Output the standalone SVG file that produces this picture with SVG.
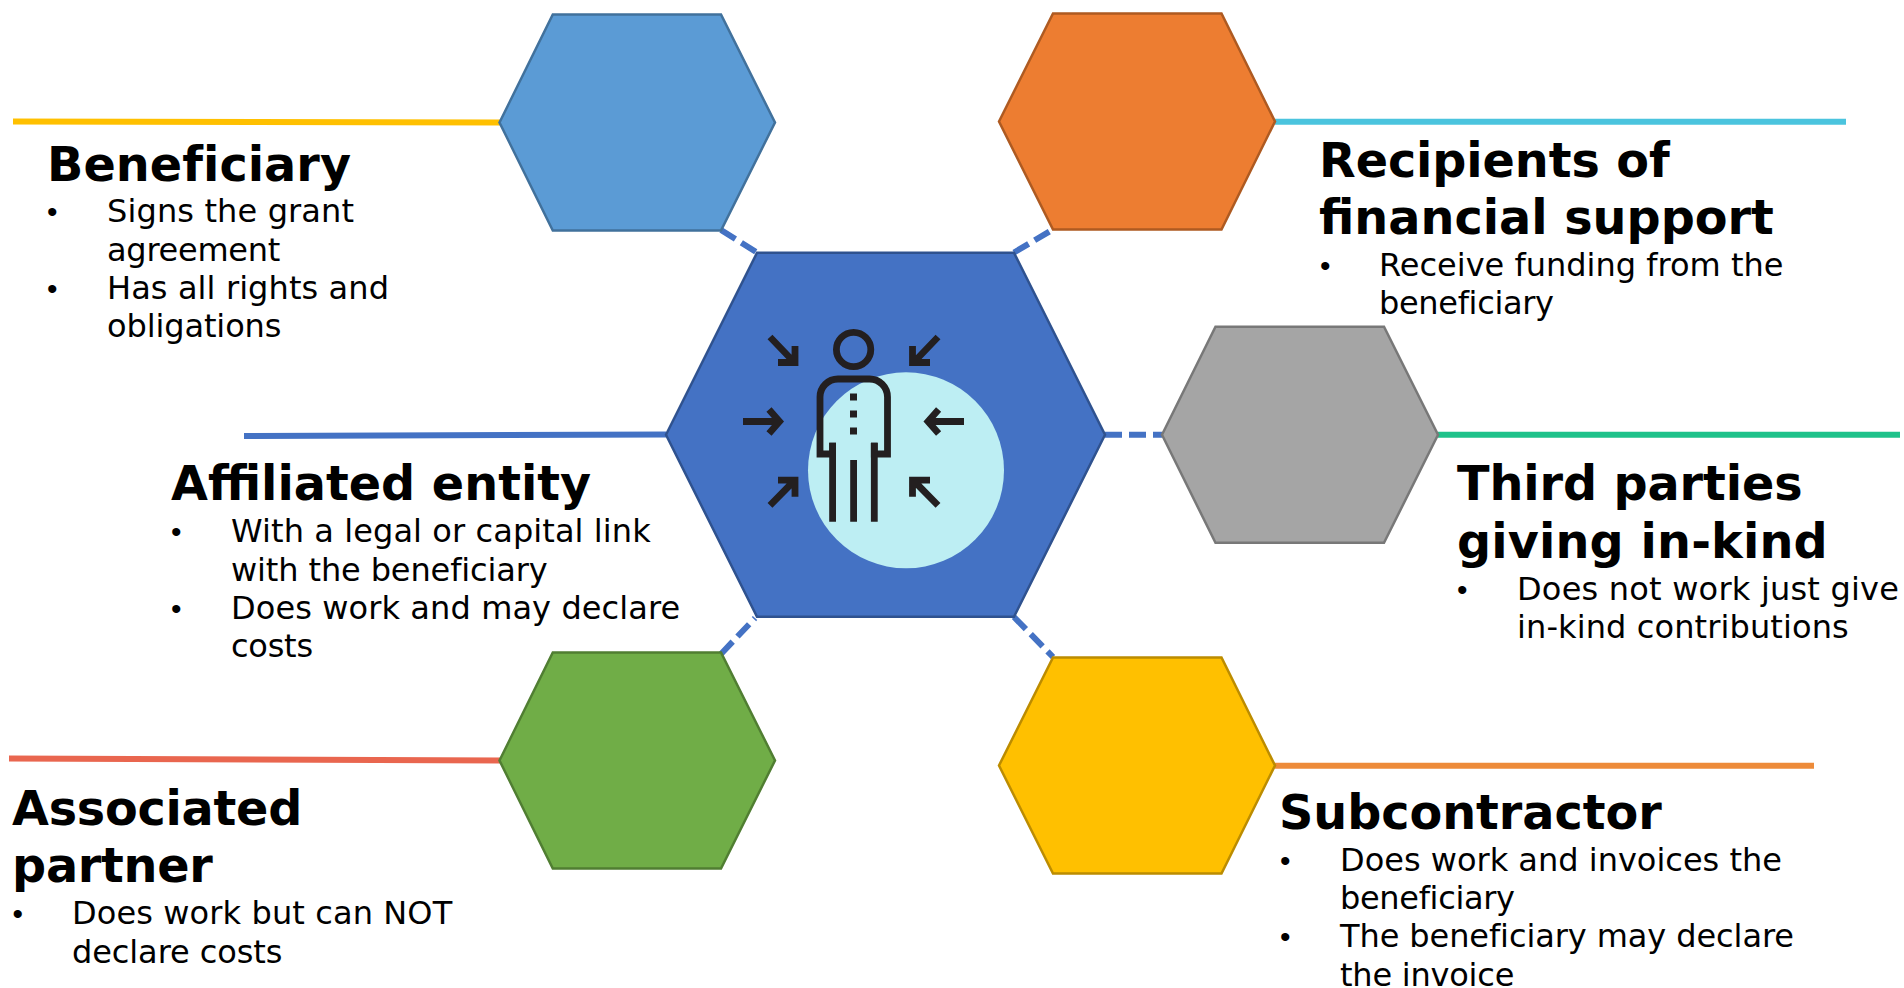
<svg xmlns="http://www.w3.org/2000/svg" width="1904" height="988" viewBox="0 0 1904 988">
<style>
text{font-family:"DejaVu Sans",Verdana,sans-serif;fill:#000}
.t{font-size:47.7px;font-weight:700}
.b{font-size:32px}
.d{font-family:"Liberation Sans",Arial,sans-serif;font-size:30px}
.hex{stroke-width:2.5}
.rule{fill:none;stroke-width:6}
.dash{fill:none;stroke:#4472C4;stroke-width:6;stroke-dasharray:17 7}
.ic{fill:none;stroke:#231f20;stroke-width:6.8}
.icf{fill:#231f20}
</style>
<rect width="1904" height="988" fill="#fff"/>
<g id="connectors">
<line class="dash" x1="721" y1="230" x2="757" y2="252.5"/>
<line class="dash" x1="1014" y1="252.5" x2="1052" y2="230"/>
<line class="dash" x1="1105" y1="434.8" x2="1162" y2="434.8"/>
<line class="dash" x1="721" y1="654" x2="755" y2="618"/>
<line class="dash" x1="1014" y1="617" x2="1053" y2="657"/>
<line class="rule" stroke="#FFC000" x1="13" y1="121.5" x2="500" y2="122.5"/>
<line class="rule" stroke="#4BC4DE" x1="1275" y1="121.7" x2="1846" y2="121.7"/>
<line class="rule" stroke="#4472C4" x1="244" y1="436" x2="666" y2="434.6"/>
<line class="rule" stroke="#1FC28A" x1="1438" y1="434.8" x2="1900" y2="434.8"/>
<line class="rule" stroke="#E9664F" x1="9" y1="758.5" x2="500" y2="760.5"/>
<line class="rule" stroke="#ED8B3A" x1="1275" y1="765.8" x2="1814" y2="765.8"/>
</g>
<g id="node-center">
<polygon class="hex" fill="#4472C4" stroke="#2F528F" points="666,434.8 757,252.8 1014,252.8 1105,434.8 1014,616.8 757,616.8"/>
<circle cx="906" cy="470.3" r="98" fill="#BDEEF3"/>
<g id="person-icon">
<circle class="ic" cx="853.6" cy="349.5" r="17.2"/>
<path class="ic" d="M832.6 442.7V454H820V397a18 18 0 0 1 18-18h31.5a18 18 0 0 1 18 18V454H874.3V442.7"/>
<path class="ic" d="M832.6 442.7V521.7M853.6 460V521.7M874.3 442.7V521.7"/>
<rect class="icf" x="850" y="393.5" width="7" height="7"/>
<rect class="icf" x="850" y="410.5" width="7" height="7"/>
<rect class="icf" x="850" y="427.5" width="7" height="7"/>
<path class="ic" d="M770 337L793 361M795 346V362.5H778"/>
<path class="ic" d="M938 337L915 361M912.5 346V362.5H930"/>
<path class="ic" d="M743 421.5H778M769 409.5L779.5 421.5L769 433.5"/>
<path class="ic" d="M964 421.5H929M938.6 409.5L928 421.5L938.6 433.5"/>
<path class="ic" d="M770 505.3L793 482M778 480.2H795V496.7"/>
<path class="ic" d="M938 505.3L915 482M930 480.2H912.5V496.7"/>
</g>
</g>
<g id="node-beneficiary">
<polygon class="hex" fill="#5B9BD5" stroke="#41719C" points="499.5,122.5 552.8,14.5 721,14.5 775,122.5 721,230.5 552.8,230.5"/>
<text class="t" x="47" y="181" letter-spacing=".05">Beneficiary</text>
<text class="d" x="47" y="222">•</text><text class="b" x="107" y="221.7" letter-spacing=".13">Signs the grant</text>
<text class="b" x="107" y="260.7" letter-spacing="-.27">agreement</text>
<text class="d" x="47" y="299">•</text><text class="b" x="107" y="299" letter-spacing=".1">Has all rights and</text>
<text class="b" x="107" y="337" letter-spacing="-.11">obligations</text>
</g>
<g id="node-recipients">
<polygon class="hex" fill="#ED7D31" stroke="#AE5A21" points="999,121.5 1053,13.5 1221.5,13.5 1275,121.5 1221.5,229.5 1053,229.5"/>
<text class="t" x="1319" y="176.7" letter-spacing="-.09">Recipients of</text>
<text class="t" x="1319" y="233.5">financial support</text>
<text class="d" x="1320" y="276">•</text><text class="b" x="1379" y="275.8">Receive funding from the</text>
<text class="b" x="1379" y="313.5" letter-spacing="-.33">beneficiary</text>
</g>
<g id="node-third-parties">
<polygon class="hex" fill="#A5A5A5" stroke="#787878" points="1162,434.8 1215.5,326.8 1384,326.8 1438,434.8 1384,542.8 1215.5,542.8"/>
<text class="t" x="1457" y="500" letter-spacing="-.1">Third parties</text>
<text class="t" x="1457" y="557.7" letter-spacing=".14">giving in-kind</text>
<text class="d" x="1457" y="599.5">•</text><text class="b" x="1517" y="599.5" letter-spacing=".21">Does not work just give</text>
<text class="b" x="1517" y="638" letter-spacing=".11">in-kind contributions</text>
</g>
<g id="node-affiliated">
<text class="t" x="171" y="500">Affiliated entity</text>
<text class="d" x="171" y="542">•</text><text class="b" x="231" y="541.8" letter-spacing=".09">With a legal or capital link</text>
<text class="b" x="231" y="580.5" letter-spacing="-.12">with the beneficiary</text>
<text class="d" x="171" y="618.5">•</text><text class="b" x="231" y="618.5" letter-spacing=".1">Does work and may declare</text>
<text class="b" x="231" y="656.5" letter-spacing="-.24">costs</text>
</g>
<g id="node-associated">
<polygon class="hex" fill="#70AD47" stroke="#507E32" points="499.5,760.5 552.8,652.5 721,652.5 775,760.5 721,868.5 552.8,868.5"/>
<text class="t" x="12" y="824.8" letter-spacing="-.24">Associated</text>
<text class="t" x="12" y="882" letter-spacing="-.26">partner</text>
<text class="d" x="12.5" y="923.5">•</text><text class="b" x="72" y="923.5" letter-spacing=".11">Does work but can NOT</text>
<text class="b" x="72" y="962.5" letter-spacing="-.09">declare costs</text>
</g>
<g id="node-subcontractor">
<polygon class="hex" fill="#FFC000" stroke="#BC8C00" points="999,765.5 1053,657.5 1221.5,657.5 1275,765.5 1221.5,873.5 1053,873.5"/>
<text class="t" x="1279" y="829.3" letter-spacing="-.05">Subcontractor</text>
<text class="d" x="1280" y="870.5">•</text><text class="b" x="1340" y="870.5">Does work and invoices the</text>
<text class="b" x="1340" y="909.3" letter-spacing="-.33">beneficiary</text>
<text class="d" x="1280" y="947">•</text><text class="b" x="1340" y="947" letter-spacing="-.09">The beneficiary may declare</text>
<text class="b" x="1340" y="985.5" letter-spacing="-.22">the invoice</text>
</g>
</svg>
